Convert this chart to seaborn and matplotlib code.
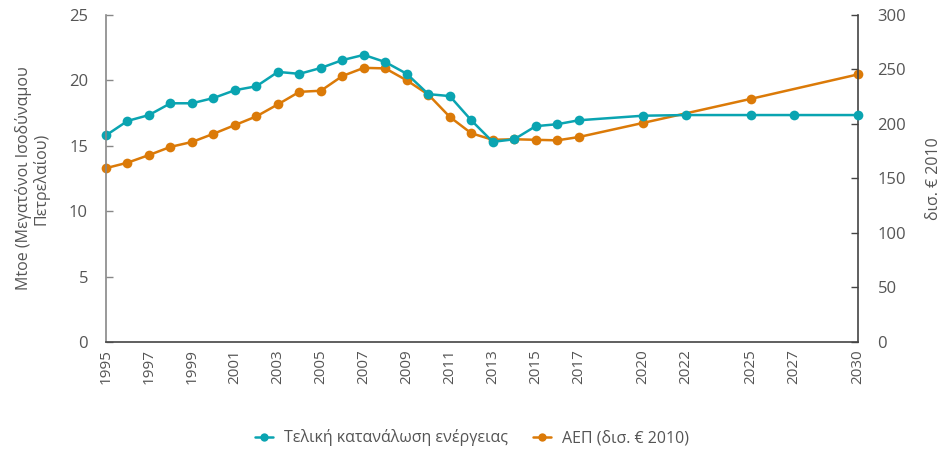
import matplotlib
matplotlib.use("Agg")
import matplotlib.pyplot as plt
import seaborn as sns
import pandas as pd
from matplotlib.lines import Line2D

sns.set_theme(style="white")
plt.rcParams['font.family'] = ['Open Sans', 'DejaVu Sans']

energy_years = list(range(1995, 2018)) + [2020, 2022, 2025, 2027, 2030]
energy_values = [15.8, 16.9, 17.35, 18.25, 18.25, 18.65, 19.25, 19.55, 20.65, 20.5,
                 20.95, 21.55, 21.95, 21.4, 20.5, 18.95, 18.8, 16.95, 15.3, 15.5,
                 16.5, 16.65, 16.95, 17.3, 17.35, 17.35, 17.35, 17.35]

gdp_years = list(range(1995, 2018)) + [2020, 2025, 2030]
gdp_values = [159.5, 164.5, 171.5, 179, 183.5, 191, 199, 207, 218, 229.5,
              230.5, 244, 251.5, 251, 240, 227, 206.5, 191.5, 185.5, 186,
              185.5, 185, 188, 201, 223, 245.5]

tick_years = list(range(1995, 2018, 2)) + [2020, 2022, 2025, 2027, 2030]

label_energy = "Τελική κατανάλωση ενέργειας"
label_gdp = "ΑΕΠ (δισ. € 2010)"
ylabel_left = "Mtoe (Μεγατόνοι Ισοδύναμου\nΠετρελαίου)"
ylabel_right = "δισ. € 2010"

teal = "#0AA4B1"
orange = "#DB7A08"
gray = "#555555"
spine_gray = "#888888"

df_e = pd.DataFrame({"year": energy_years, "value": energy_values})
df_g = pd.DataFrame({"year": gdp_years, "value": gdp_values})

fig = plt.figure(figsize=(9.44, 4.5), dpi=100)
ax = fig.add_axes([0.1123, 0.24, 0.7966, 0.7267])
ax2 = ax.twinx()

sns.lineplot(data=df_g, x="year", y="value", ax=ax2, color=orange, lw=1.8,
             marker="o", markersize=7, markeredgewidth=0, clip_on=False)
sns.lineplot(data=df_e, x="year", y="value", ax=ax, color=teal, lw=1.8,
             marker="o", markersize=7, markeredgewidth=0, clip_on=False)

ax.set_zorder(ax2.get_zorder() + 1)
ax.patch.set_visible(False)

ax.set_xlim(1995, 2030)
ax.set_ylim(0, 25)
ax2.set_ylim(0, 300)
ax.set_yticks([0, 5, 10, 15, 20, 25])
ax2.set_yticks([0, 50, 100, 150, 200, 250, 300])
ax.set_xticks(range(1995, 2031), minor=False)
ax.set_xticklabels([str(y) if y in tick_years else "" for y in range(1995, 2031)],
                   rotation=90)

for a in (ax, ax2):
    a.spines['top'].set_visible(False)
    a.grid(False)
    a.set_xlabel("")
ax.spines['right'].set_visible(False)
ax2.spines['left'].set_visible(False)
ax2.spines['bottom'].set_visible(False)
ax.spines['left'].set_color(spine_gray)
ax.spines['bottom'].set_color("#444444")
ax2.spines['right'].set_color("#444444")
for s in ['left', 'bottom']:
    ax.spines[s].set_linewidth(1.2)
ax2.spines['right'].set_linewidth(1.2)

ax.tick_params(axis='y', direction='in', length=5, width=1, color=spine_gray,
               labelsize=12, labelcolor=gray, pad=13)
ax.tick_params(axis='x', direction='in', length=5, width=1, color="#444444",
               labelsize=11, labelcolor=gray, pad=5)
ax2.tick_params(axis='y', direction='in', length=5, width=1, color="#444444",
                labelsize=12, labelcolor=gray, pad=14)

ax.set_ylabel(ylabel_left, fontsize=11.5, color=gray, labelpad=14, linespacing=1.05)
ax2.set_ylabel(ylabel_right, fontsize=11.5, color=gray, labelpad=14)

handles = [Line2D([], [], color=teal, marker="o", lw=1.8, markersize=6, markeredgewidth=0),
           Line2D([], [], color=orange, marker="o", lw=1.8, markersize=6, markeredgewidth=0)]
fig.legend(handles, [label_energy, label_gdp], loc="center", bbox_to_anchor=(0.5, 0.027),
           ncol=2, frameon=False, fontsize=11.5, labelcolor=gray, handlelength=1.1,
           columnspacing=1.6, handletextpad=0.7)

fig.savefig("out.png", dpi=100)
